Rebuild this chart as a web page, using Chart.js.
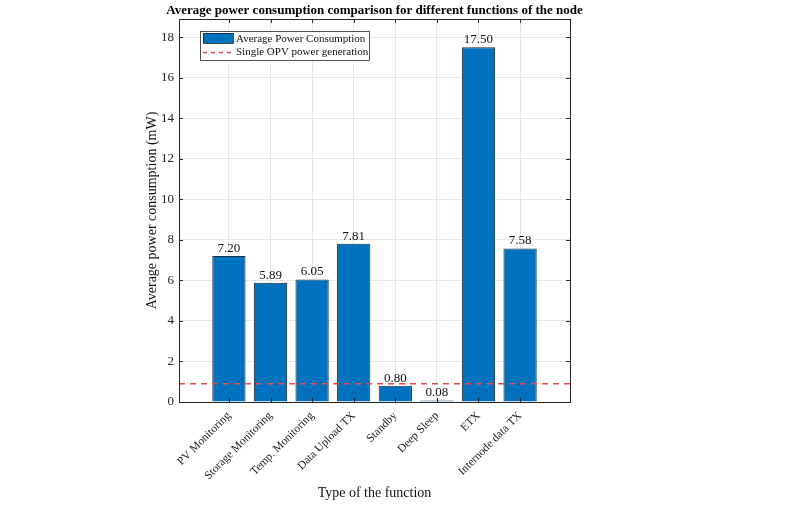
<!DOCTYPE html>
<html lang="en">
<head>
  <meta charset="UTF-8">
  <title>Average power consumption</title>
  <script src="https://cdn.jsdelivr.net/npm/chart.js"></script>
  <style>
    html, body { margin: 0; padding: 0; background: #fff; }
    #wrap { width: 808px; height: 531px; }
  </style>
</head>
<body>
  <div id="wrap"><canvas id="powerChart" width="808" height="531"></canvas></div>

  <script>
    // data
    const functions = ['PV Monitoring', 'Storage Monitoring', 'Temp. Monitoring', 'Data Upload TX',
                       'Standby', 'Deep Sleep', 'ETX', 'Internode data TX'];
    const avgPower = [7.20, 5.89, 6.05, 7.81, 0.80, 0.08, 17.50, 7.58];
    const opvPower = 0.9;
    const yTicks = [0, 2, 4, 6, 8, 10, 12, 14, 16, 18];
    const xRange = [-0.2, 9.2];
    const yRange = [0, 18.9];

    const serif = '"Liberation Serif", "Times New Roman", serif';
    const axisColor = '#262626';

    // title, box, inner ticks, value labels and legend drawn MATLAB style
    const figurePlugin = {
      id: 'figure',
      afterDatasetsDraw(chart) {
        const ctx = chart.ctx;
        const a = chart.chartArea;
        const xs = chart.scales.x, ys = chart.scales.y;
        ctx.save();

        // value labels over the bars
        const barMeta = chart.getDatasetMeta(1);
        ctx.fillStyle = '#111';
        ctx.font = '13px ' + serif;
        ctx.textAlign = 'center';
        ctx.textBaseline = 'bottom';
        barMeta.data.forEach((bar, i) => {
          ctx.fillText(avgPower[i].toFixed(2), bar.x, bar.y - 1);
        });

        // box
        ctx.strokeStyle = axisColor;
        ctx.lineWidth = 1;
        ctx.strokeRect(a.left + 0.5, a.top + 0.5, a.right - a.left, a.bottom - a.top);

        // inner tick marks
        ctx.beginPath();
        xs.ticks.forEach(t => {
          const px = Math.round(xs.getPixelForValue(t.value)) + 0.5;
          ctx.moveTo(px, a.bottom); ctx.lineTo(px, a.bottom - 4);
          ctx.moveTo(px, a.top); ctx.lineTo(px, a.top + 4);
        });
        ys.ticks.forEach(t => {
          const py = Math.round(ys.getPixelForValue(t.value)) + 0.5;
          ctx.moveTo(a.left, py); ctx.lineTo(a.left + 4, py);
          ctx.moveTo(a.right, py); ctx.lineTo(a.right - 4, py);
        });
        ctx.stroke();

        // legend
        const lx = a.left + 21, ly = a.top + 12;
        ctx.fillStyle = '#fff';
        ctx.fillRect(lx, ly, 169, 29);
        ctx.strokeStyle = '#262626';
        ctx.lineWidth = 0.8;
        ctx.strokeRect(lx + 0.5, ly + 0.5, 169, 29);
        const ds = chart.data.datasets;
        ctx.fillStyle = ds[1].backgroundColor;
        ctx.fillRect(lx + 3, ly + 2, 30, 10);
        ctx.strokeStyle = '#222';
        ctx.strokeRect(lx + 3.5, ly + 2.5, 30, 10);
        ctx.strokeStyle = ds[0].borderColor;
        ctx.lineWidth = 1.5;
        ctx.setLineDash([4, 4]);
        ctx.beginPath();
        ctx.moveTo(lx + 3, ly + 21.5); ctx.lineTo(lx + 33, ly + 21.5);
        ctx.stroke();
        ctx.setLineDash([]);
        ctx.fillStyle = '#111';
        ctx.font = '11px ' + serif;
        ctx.textAlign = 'left';
        ctx.textBaseline = 'middle';
        ctx.fillText(ds[1].label, lx + 36, ly + 8);
        ctx.fillText(ds[0].label, lx + 36, ly + 21);

        // title over the plot area
        ctx.font = 'bold 13px ' + serif;
        ctx.textAlign = 'center';
        ctx.textBaseline = 'middle';
        ctx.fillStyle = '#000';
        ctx.fillText('Average power consumption comparison for different functions of the node',
                     (a.left + a.right) / 2, 11);
        ctx.restore();
      }
    };

    const ctx = document.getElementById('powerChart').getContext('2d');
    const powerChart = new Chart(ctx, {
      data: {
        datasets: [
          {
            type: 'line',
            label: 'Single OPV power generation',
            data: xRange.map(x => ({ x: x, y: opvPower })),
            borderColor: '#e3484c',
            borderWidth: 1.5,
            borderDash: [6, 5],
            pointRadius: 0,
            fill: false,
            order: 0
          },
          {
            type: 'bar',
            label: 'Average Power Consumption',
            data: avgPower.map((v, i) => ({ x: i + 1, y: v })),
            backgroundColor: '#0072BD',
            borderColor: '#1a2a3a',
            borderWidth: 1,
            categoryPercentage: 1.0,
            barPercentage: 0.8,
            order: 1
          }
        ]
      },
      plugins: [figurePlugin],
      options: {
        responsive: false,
        animation: false,
        layout: { padding: { left: 140, right: 238, top: 19, bottom: 28 } },
        plugins: {
          legend: { display: false },
          title: { display: false },
          tooltip: { enabled: false }
        },
        scales: {
          x: {
            type: 'linear',
            offset: false,
            min: xRange[0],
            max: xRange[1],
            afterBuildTicks(scale) {
              scale.ticks = functions.map((f, i) => ({ value: i + 1 }));
            },
            afterFit(scale) { scale.height = 101; },
            grid: { color: '#e6e6e6', drawTicks: false, offset: false },
            border: { display: false },
            ticks: {
              autoSkip: false,
              minRotation: 45,
              maxRotation: 45,
              padding: 7,
              color: '#1a1a1a',
              font: { family: serif, size: 11.5 },
              callback: (v) => functions[v - 1] || ''
            },
            title: {
              display: true,
              text: 'Type of the function',
              color: '#111',
              font: { family: serif, size: 14 },
              padding: { top: 0, bottom: 1 }
            }
          },
          y: {
            type: 'linear',
            min: yRange[0],
            max: yRange[1],
            afterBuildTicks(scale) {
              scale.ticks = yTicks.map(v => ({ value: v }));
            },
            afterFit(scale) { scale.width = 39; },
            grid: { color: '#e6e6e6', drawTicks: false },
            border: { display: false },
            ticks: {
              padding: 5,
              color: '#222',
              font: { family: serif, size: 13 }
            },
            title: {
              display: true,
              text: 'Average power consumption (mW)',
              color: '#111',
              font: { family: serif, size: 14 },
              padding: { top: 4, bottom: 0 }
            }
          }
        }
      }
    });
  </script>
</body>
</html>
